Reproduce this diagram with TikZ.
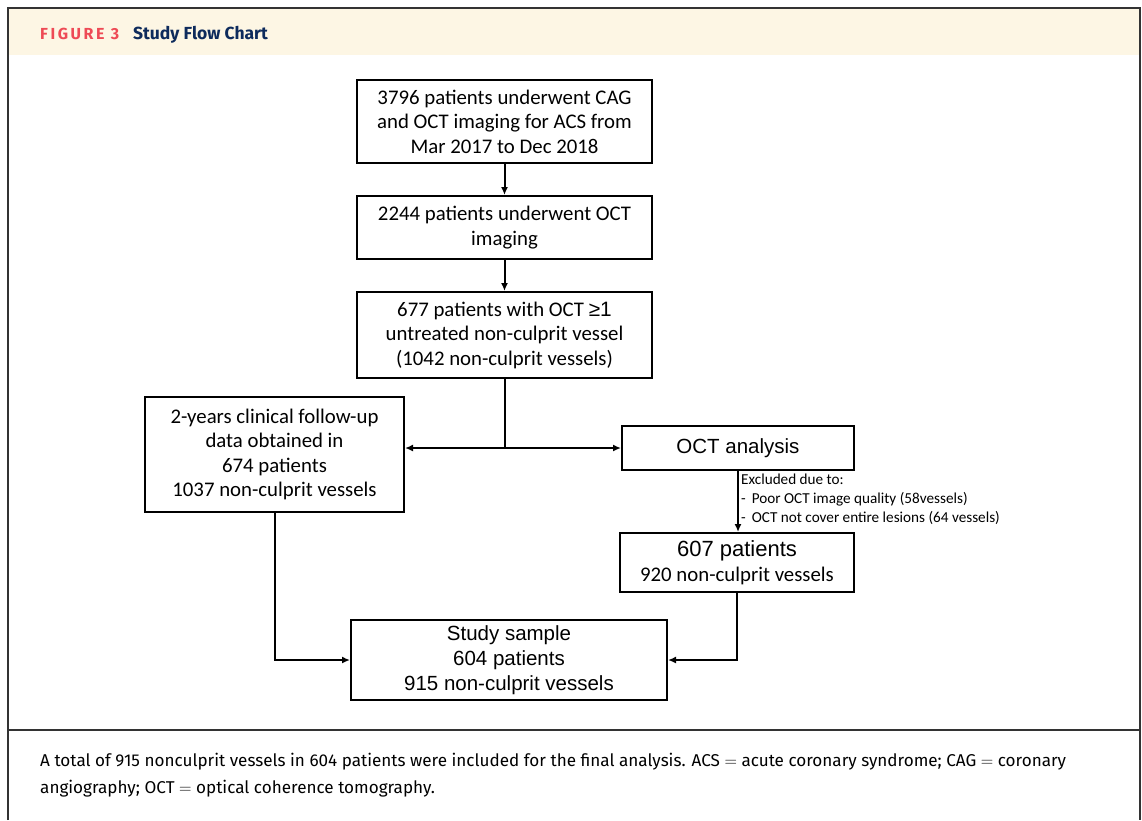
\documentclass[tikz,border=0pt]{standalone}
\usepackage{fontspec}
\setmainfont{Carlito}
\newfontfamily\arialf{Liberation Sans}
\newfontfamily\firaf{Fira Sans}
\usetikzlibrary{arrows.meta,positioning}
\definecolor{hdrbg}{HTML}{FDF6E4}
\definecolor{hdrred}{HTML}{EE4A55}
\definecolor{hdrnavy}{HTML}{0E2B5C}
\definecolor{framegray}{HTML}{333333}
\tikzset{
  fbox/.style={draw=black, line width=2pt, align=center, inner sep=2pt, font=\fontsize{20.8}{24.5}\selectfont},
  abox/.style={fbox, font=\arialf\fontsize{20.5}{25}\selectfont},
  arr/.style={line width=2pt, -{Latex[length=8pt,width=7pt]}},
  ln/.style={line width=2pt}
}
\begin{document}
\begin{tikzpicture}[x=1pt,y=-1pt]
\useasboundingbox (0,0) rectangle (1142,820);
% frame and header
\fill[hdrbg] (9,9) rectangle (1139,55);
\draw[framegray, line width=2.5pt] (8,820) -- (8,8) -- (1140,8) -- (1140,820);
\draw[framegray, line width=2pt] (8,730) -- (1140,730);
\node[anchor=base west, inner sep=0pt, text=hdrred, font=\firaf\bfseries\addfontfeature{LetterSpace=16}\fontsize{16}{18}\selectfont] (figno) at (40,39) {FIGURE 3};
\node[anchor=base west, inner sep=0pt, text=hdrnavy, font=\firaf\bfseries\fontsize{17.5}{20}\selectfont] (title) at (133,39) {Study Flow Chart};
% boxes
\node[fbox, minimum width=295pt, minimum height=83pt] (A) at (504.5,121.5) {\rule{0pt}{5pt}3796 patients underwent CAG\\and OCT imaging for ACS from\\Mar 2017 to Dec 2018};
\node[fbox, minimum width=295pt, minimum height=63pt] (B) at (504.5,227.5) {2244 patients underwent OCT\\imaging};
\node[fbox, minimum width=295pt, minimum height=86pt] (C) at (504.5,335) {677 patients with OCT \arialf{≥}1\\untreated non-culprit vessel\\(1042 non-culprit vessels)};
\node[fbox, minimum width=259pt, minimum height=115pt] (D) at (274.5,454.5) {2-years clinical follow-up\\data obtained in\\674 patients\\1037 non-culprit vessels};
\node[abox, minimum width=232pt, minimum height=44pt] (E) at (738,448) {OCT analysis};
\node[fbox, minimum width=234pt, minimum height=59pt] (F) at (737,562.5) {{\arialf\fontsize{22}{24.5}\selectfont 607 patients}\\920 non-culprit vessels};
\node[abox, minimum width=316pt, minimum height=80pt] (G) at (509,660) {Study sample\\604 patients\\915 non-culprit vessels};
% exclusion text
\node[anchor=north west, inner sep=0pt, align=left, font=\fontsize{15.2}{19}\selectfont] (X) at (741,474) {Excluded due to:\\-\hspace{6pt}Poor OCT image quality (58vessels)\\-\hspace{6pt}OCT not cover entire lesions (64 vessels)};
% connectors
\coordinate (j) at (504.5,448);
\draw[arr] (A) -- (B);
\draw[arr] (B) -- (C);
\draw[ln] (C.south) -- (j);
\draw[arr] (j) -- (j -| D.east);
\draw[arr] (j) -- (E.west);
\draw[arr] (E.south) -- (E.south |- F.north);
\draw[arr] (D.south) |- (G.west);
\draw[arr] (F.south) |- (G.east);
% caption
\node[anchor=base west, inner sep=0pt, align=left, font=\firaf\fontsize{17.1}{27}\selectfont] (cap) at (40,766) {A total of 915 nonculprit vessels in 604 patients were included for the final analysis. ACS $=$ acute coronary syndrome; CAG $=$ coronary};
\node[anchor=base west, inner sep=0pt, align=left, font=\firaf\fontsize{17.1}{27}\selectfont] (cap2) at (40,793) {angiography; OCT $=$ optical coherence tomography.};
\end{tikzpicture}
\end{document}
